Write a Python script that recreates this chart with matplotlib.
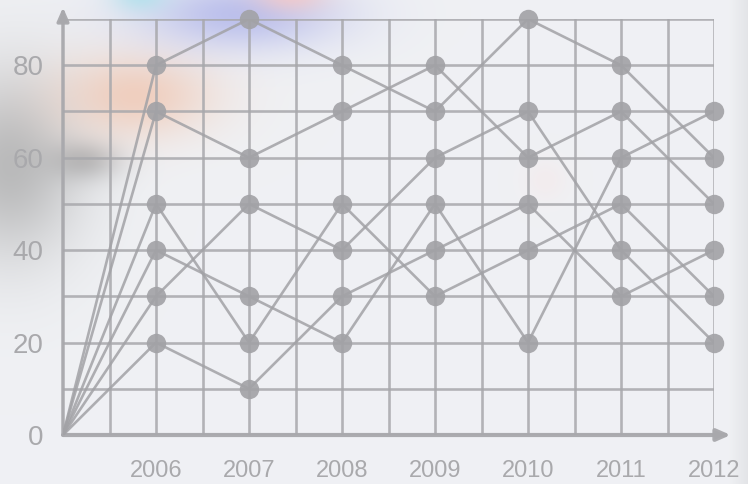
import numpy as np
import matplotlib
matplotlib.use("Agg")
import matplotlib.pyplot as plt

# data; every line starts from the origin (2005, 0)
years = [2006, 2007, 2008, 2009, 2010, 2011, 2012]
origin_year = 2005
series_a = [80, 90, 80, 70, 90, 80, 60]
series_b = [70, 60, 70, 80, 60, 70, 50]
series_c = [50, 20, 50, 30, 40, 50, 30]
series_d = [40, 30, 20, 50, 20, 60, 70]
series_e = [30, 50, 40, 60, 70, 40, 20]
series_f = [20, 10, 30, 40, 50, 30, 40]
y_ticks = [0, 20, 40, 60, 80]

W, H = 748, 484
fig = plt.figure(figsize=(W / 100, H / 100), dpi=100)

# soft blurred background (photo-like blobs)
bg_ax = fig.add_axes([0, 0, 1, 1])
bg_ax.axis("off")
yy, xx = np.mgrid[0:H, 0:W]
img = np.ones((H, W, 3)) * np.array([0.940, 0.945, 0.957])
# slightly darker band at the far right
img -= (np.clip((xx - 728) / 20, 0, 1) * 0.05)[..., None]

def blob(cx, cy, sx, sy, color, strength):
    global img
    g = np.exp(-(((xx - cx) / sx) ** 2 + ((yy - cy) / sy) ** 2) / 2) * strength
    img = img * (1 - g[..., None]) + np.array(color) * g[..., None]

blob(10, 165, 50, 65, (0.66, 0.66, 0.66), 0.75)
blob(85, 160, 25, 14, (0.52, 0.52, 0.52), 0.45)
blob(135, 95, 55, 30, (0.94, 0.78, 0.70), 0.8)
blob(240, 14, 70, 25, (0.70, 0.72, 0.92), 0.85)
blob(140, -5, 20, 12, (0.66, 0.88, 0.92), 0.7)
blob(290, -5, 25, 12, (0.98, 0.78, 0.76), 0.7)
blob(545, 180, 15, 15, (0.98, 0.88, 0.88), 0.3)
bg_ax.imshow(np.clip(img, 0, 1), aspect="auto", extent=[0, 1, 0, 1])
bg_ax.set_xlim(0, 1)
bg_ax.set_ylim(0, 1)

ax = fig.add_axes([63 / W, 1 - 435 / H, 651 / W, 416 / H])
ax.patch.set_alpha(0)
for s in ax.spines.values():
    s.set_visible(False)

line_col = "#a2a2a6"
grid_col = "#a8a8ac"
text_col = "#a9a9ac"

ax.set_xlim(origin_year, years[-1])
ax.set_ylim(0, 90)
ax.set_xticks(years)
ax.set_xticks(np.arange(origin_year + 0.5, years[-1], 1.0), minor=True)
ax.set_yticks(y_ticks)
ax.set_yticks([10, 30, 50, 70, 90], minor=True)
ax.grid(which="both", color=grid_col, linewidth=1.9, alpha=0.85, zorder=1)
ax.tick_params(which="both", length=0)
ax.tick_params(axis="x", pad=18, labelsize=17, labelcolor=text_col)
ax.tick_params(axis="y", pad=14, labelsize=20, labelcolor=text_col)
for lab in ax.get_xticklabels() + ax.get_yticklabels():
    lab.set_family(["Liberation Sans", "DejaVu Sans"])

for vals in [series_a, series_b, series_c, series_d, series_e, series_f]:
    ax.plot([origin_year] + years, [0] + vals, color=line_col, linewidth=1.9,
            alpha=0.85, zorder=3, solid_capstyle="round")
    ax.plot(years, vals, linestyle="none", marker="o", markersize=14,
            color=line_col, alpha=0.9, markeredgewidth=0, zorder=4,
            clip_on=False)

# axes with arrows
ax.annotate("", xy=(2012.18, 0), xytext=(origin_year, 0),
            arrowprops=dict(arrowstyle="-|>,head_length=0.8,head_width=0.35",
                            color=grid_col, lw=3, alpha=0.95, shrinkA=0, shrinkB=0),
            annotation_clip=False, zorder=2)
ax.annotate("", xy=(origin_year, 92.5), xytext=(origin_year, 0),
            arrowprops=dict(arrowstyle="-|>,head_length=0.8,head_width=0.35",
                            color=grid_col, lw=2.5, alpha=0.95, shrinkA=0, shrinkB=0),
            annotation_clip=False, zorder=2)

fig.savefig("out.png", dpi=100)
